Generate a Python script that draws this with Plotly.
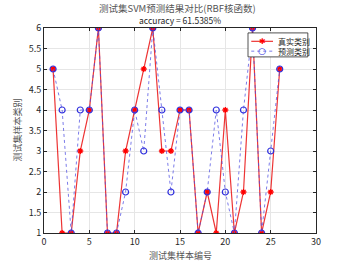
import plotly.graph_objects as go

sample_idx = list(range(1, 27))
true_cls = [5, 1, 1, 3, 4, 6, 1, 1, 3, 4, 5, 6, 3, 3, 4, 4, 1, 2, 1, 4, 1, 2, 6, 1, 2, 5]
pred_cls = [5, 4, 1, 4, 4, 6, 1, 1, 2, 4, 3, 6, 4, 2, 4, 4, 1, 2, 4, 2, 1, 4, 6, 1, 3, 5]
series_names = ["真实类别", "预测类别"]
acc = sum(t == p for t, p in zip(true_cls, pred_cls)) / len(true_cls) * 100

FONT = "Noto Sans CJK SC"
RED = "rgba(235,30,30,0.9)"
BLUE = "rgba(80,80,225,0.75)"

fig = go.Figure()
fig.add_trace(go.Scatter(
    x=sample_idx, y=true_cls, mode="lines+markers", name=series_names[0],
    line=dict(color=RED, width=1.2),
    marker=dict(symbol="asterisk-open", size=5, color="red",
                line=dict(color="red", width=1.3)),
    showlegend=False,
))
fig.add_trace(go.Scatter(
    x=sample_idx, y=pred_cls, mode="lines+markers", name=series_names[1],
    line=dict(color=BLUE, width=1, dash="dot"),
    marker=dict(symbol="circle-open", size=6, color="#3030dd",
                line=dict(color="#3030dd", width=1.2)),
    showlegend=False,
))

axis_common = dict(
    showline=True, linecolor="#262626", linewidth=0.8, mirror="ticks",
    ticks="inside", ticklen=3, tickcolor="#262626",
    showgrid=True, gridcolor="#e6e6e6", gridwidth=0.8, zeroline=False,
    tickfont=dict(family=FONT, size=9, color="#262626"),
)

# manual compact legend (MATLAB-style box)
lx0, lx1, ly0, ly1 = 0.75, 0.97, 0.859, 0.976
rows = [0.935, 0.887]
shapes = [dict(type="rect", xref="paper", yref="paper", x0=lx0, x1=lx1, y0=ly0, y1=ly1,
               line=dict(color="#262626", width=0.8), fillcolor="white", layer="above")]
shapes.append(dict(type="line", xref="paper", yref="paper", x0=0.762, x1=0.842,
                   y0=rows[0], y1=rows[0], line=dict(color=RED, width=1.2), layer="above"))
shapes.append(dict(type="line", xref="paper", yref="paper", x0=0.762, x1=0.842,
                   y0=rows[1], y1=rows[1], line=dict(color=BLUE, width=1, dash="dot"), layer="above"))

annotations = [
    dict(text="测试集SVM预测结果对比(RBF核函数)", xref="paper", yref="paper",
         x=0.49, y=1.098, xanchor="center", yanchor="middle", showarrow=False,
         font=dict(family=FONT, size=9.5, color="#555")),
    dict(text=f"accuracy = {acc:.4f}%", xref="paper", yref="paper",
         x=0.5, y=1.041, xanchor="center", yanchor="middle", showarrow=False,
         font=dict(family=FONT, size=8.5, color="#262626")),
    dict(text="测试集样本编号", xref="paper", yref="paper",
         x=0.5, y=-0.108, xanchor="center", yanchor="middle", showarrow=False,
         font=dict(family=FONT, size=9, color="#555")),
    dict(text="测试集样本类别", xref="paper", yref="paper", textangle=-90,
         x=-0.099, y=0.5, xanchor="center", yanchor="middle", showarrow=False,
         font=dict(family=FONT, size=9, color="#555")),
    dict(text="✱", xref="paper", yref="paper", x=0.802, y=rows[0],
         xanchor="center", yanchor="middle", showarrow=False,
         font=dict(family="DejaVu Sans", size=8, color="red")),
    dict(text="○", xref="paper", yref="paper", x=0.802, y=rows[1],
         xanchor="center", yanchor="middle", showarrow=False,
         font=dict(family="DejaVu Sans", size=9, color="#3030dd")),
    dict(text=series_names[0], xref="paper", yref="paper", x=0.853, y=rows[0],
         xanchor="left", yanchor="middle", showarrow=False,
         font=dict(family=FONT, size=8, color="#262626")),
    dict(text=series_names[1], xref="paper", yref="paper", x=0.853, y=rows[1],
         xanchor="left", yanchor="middle", showarrow=False,
         font=dict(family=FONT, size=8, color="#262626")),
]

fig.update_layout(
    width=350, height=262,
    margin=dict(l=44, r=34, t=28, b=29),
    paper_bgcolor="white", plot_bgcolor="white",
    font=dict(family=FONT, color="#262626"),
    xaxis=dict(range=[0, 30], dtick=5, tick0=0, **axis_common),
    yaxis=dict(range=[1, 6], dtick=0.5, tick0=1, **axis_common),
    shapes=shapes,
    annotations=annotations,
    showlegend=False,
)

fig.write_html("out.html",
               config={"displayModeBar": False},
               post_script="document.body.style.margin='0px';document.body.style.padding='0px';")
